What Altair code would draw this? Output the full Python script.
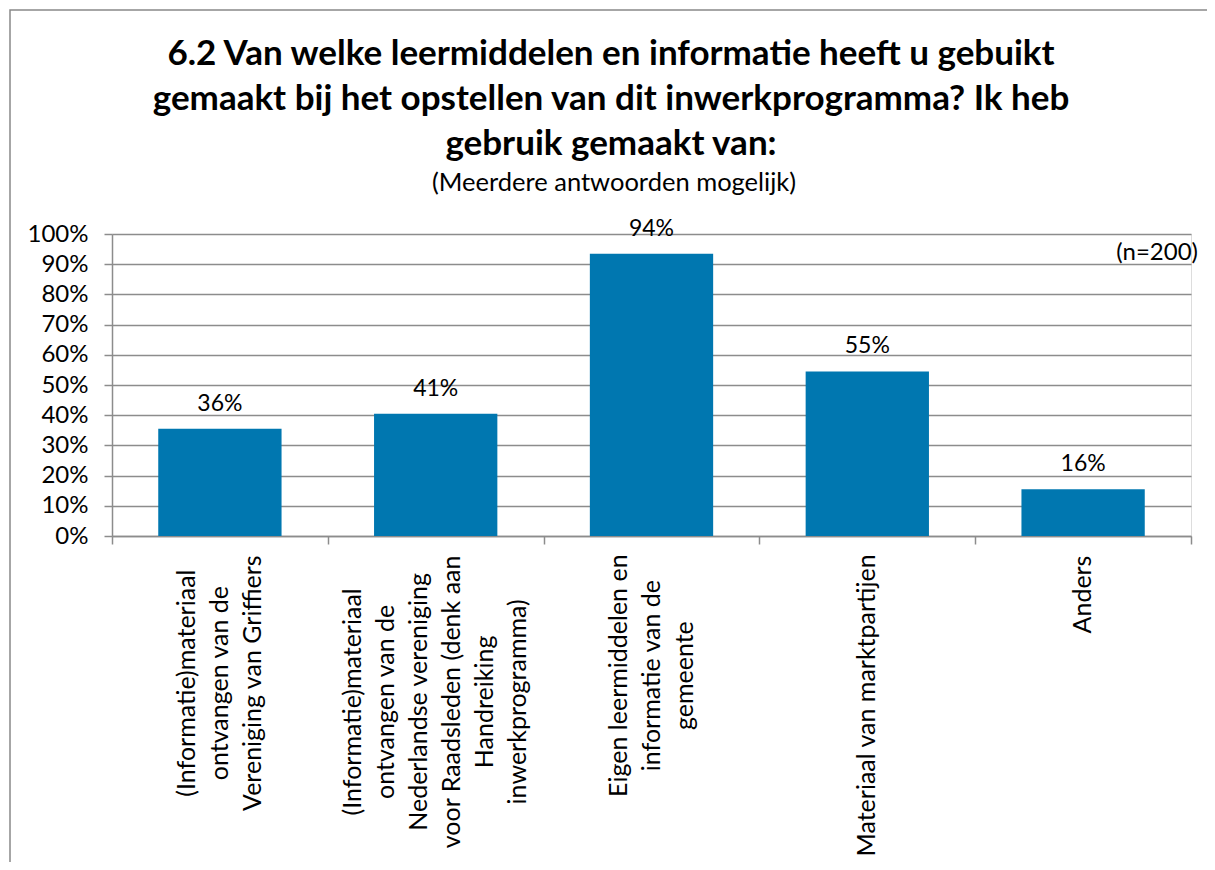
import altair as alt
import pandas as pd

# ---- data ----
title_lines = [
    "6.2 Van welke leermiddelen en informatie heeft u gebuikt",
    "gemaakt bij het opstellen van dit inwerkprogramma? Ik heb",
    "gebruik gemaakt van:",
]
subtitle_text = "(Meerdere antwoorden mogelijk)"
n_note = "(n=200)"

category_lines = [
    ["(Informatie)materiaal", "ontvangen van de", "Vereniging van Griffiers"],
    ["(Informatie)materiaal", "ontvangen van de", "Nederlandse vereniging",
     "voor Raadsleden (denk aan", "Handreiking", "inwerkprogramma)"],
    ["Eigen leermiddelen en", "informatie van de", "gemeente"],
    ["Materiaal van marktpartijen"],
    ["Anders"],
]
values = [0.355, 0.405, 0.935, 0.545, 0.155]
value_labels = ["36%", "41%", "94%", "55%", "16%"]
y_ticks = [0, 0.1, 0.2, 0.3, 0.4, 0.5, 0.6, 0.7, 0.8, 0.9, 1.0]

# ---- styling ----
FONT = "Lato"
LABEL_FS = 25
LINE_H = 33
LABEL_GAP = 20
W, H = 1079, 302
STEP = W / len(category_lines)
GRAY = "#8c8c8c"
BLUE = "#0077B0"

# approximate Lato glyph widths (em), used only to centre each rotated
# multi-line category label below its tick
_w = {
    'a': .50, 'b': .56, 'c': .46, 'd': .56, 'e': .52, 'f': .32, 'g': .50,
    'h': .55, 'i': .23, 'j': .23, 'k': .49, 'l': .23, 'm': .83, 'n': .55,
    'o': .55, 'p': .55, 'r': .36, 's': .42, 't': .35, 'u': .55, 'v': .50,
    'w': .76, 'I': .28, 'V': .66, 'N': .74, 'R': .60, 'H': .74, 'E': .55,
    'M': .87, 'A': .67, 'G': .72, '(': .30, ')': .30, ' ': .26,
}


def text_w(s):
    return sum(_w.get(ch, .52) for ch in s) * LABEL_FS


cat_keys = [" ".join(ls) for ls in category_lines]

df = pd.DataFrame({"cat": cat_keys, "value": values, "label": value_labels})

rows = []
for key, ls in zip(cat_keys, category_lines):
    n = len(ls)
    half = max(text_w(l) for l in ls) / 2
    for i, line in enumerate(ls):
        rows.append({
            "cat": key,
            "line": line,
            "xoff": STEP / 2 + (i - (n - 1) / 2) * LINE_H,
            # below the axis: centre of the rotated block, in y-scale units
            "value": -(LABEL_GAP + half) / H,
        })
lines_df = pd.DataFrame(rows)

x_enc = alt.X(
    "cat:N", sort=cat_keys,
    scale=alt.Scale(paddingInner=0, paddingOuter=0),
    axis=alt.Axis(
        title=None, labels=False,
        tickBand="extent", tickSize=8, tickColor=GRAY, tickWidth=1.5,
        domainColor=GRAY, domainWidth=1.5,
    ),
)
y_enc = alt.Y(
    "value:Q",
    scale=alt.Scale(domain=[0, 1]),
    axis=alt.Axis(
        title=None, values=y_ticks, format=".0%", labelFont=FONT,
        labelFontSize=24, labelColor="black", labelPadding=16,
        labelOverlap=False,
        tickSize=8, tickColor=GRAY, tickWidth=1.5,
        domainColor=GRAY, domainWidth=1.5,
        grid=True, gridColor=GRAY, gridWidth=1.5,
    ),
)

one = pd.DataFrame({"k": [0]})

border = alt.Chart(one).mark_rect(
    filled=False, stroke="#898989", strokeWidth=1.5
).encode(
    x=alt.value(-102), x2=alt.value(W + 300),
    y=alt.value(-224), y2=alt.value(H + 600),
)

bars = alt.Chart(df).mark_bar(
    color=BLUE, width=alt.RelativeBandSize(0.5714)
).encode(x=x_enc, y=y_enc)

texts = alt.Chart(df).mark_text(
    font=FONT, fontSize=23, color="black", baseline="alphabetic", dy=-18
).encode(x=x_enc, y=y_enc, text="label:N")

cat_labels = alt.Chart(lines_df).mark_text(
    font=FONT, fontSize=LABEL_FS, color="black", angle=270,
    align="center", baseline="middle",
).encode(
    x=x_enc,
    xOffset=alt.XOffset("xoff:Q", scale=None),
    y=y_enc,
    text="line:N",
)

title_mark = alt.Chart(one).mark_text(
    text=title_lines, font=FONT, fontSize=35, fontWeight="bold",
    color="black", align="center", baseline="alphabetic", lineHeight=45,
).encode(x=alt.value(499), y=alt.value(-169))

subtitle_mark = alt.Chart(one).mark_text(
    text=subtitle_text, font=FONT, fontSize=25.5, color="black",
    align="center", baseline="alphabetic",
).encode(x=alt.value(502), y=alt.value(-43))

n_mark = alt.Chart(one).mark_text(
    text=n_note, font=FONT, fontSize=24, color="black",
    align="right", baseline="middle",
).encode(x=alt.value(W + 7), y=alt.value(19))

chart = alt.layer(
    border, bars, texts, cat_labels, title_mark, subtitle_mark, n_mark
).properties(
    width=W, height=H,
    autosize=alt.AutoSizeParams(type="none"),
    padding={"left": 104, "top": 226, "right": 16, "bottom": 326},
).configure_view(strokeWidth=0, stroke="transparent").configure(
    background="white"
)

chart.save("out.html", embed_options={"renderer": "svg", "actions": False})
